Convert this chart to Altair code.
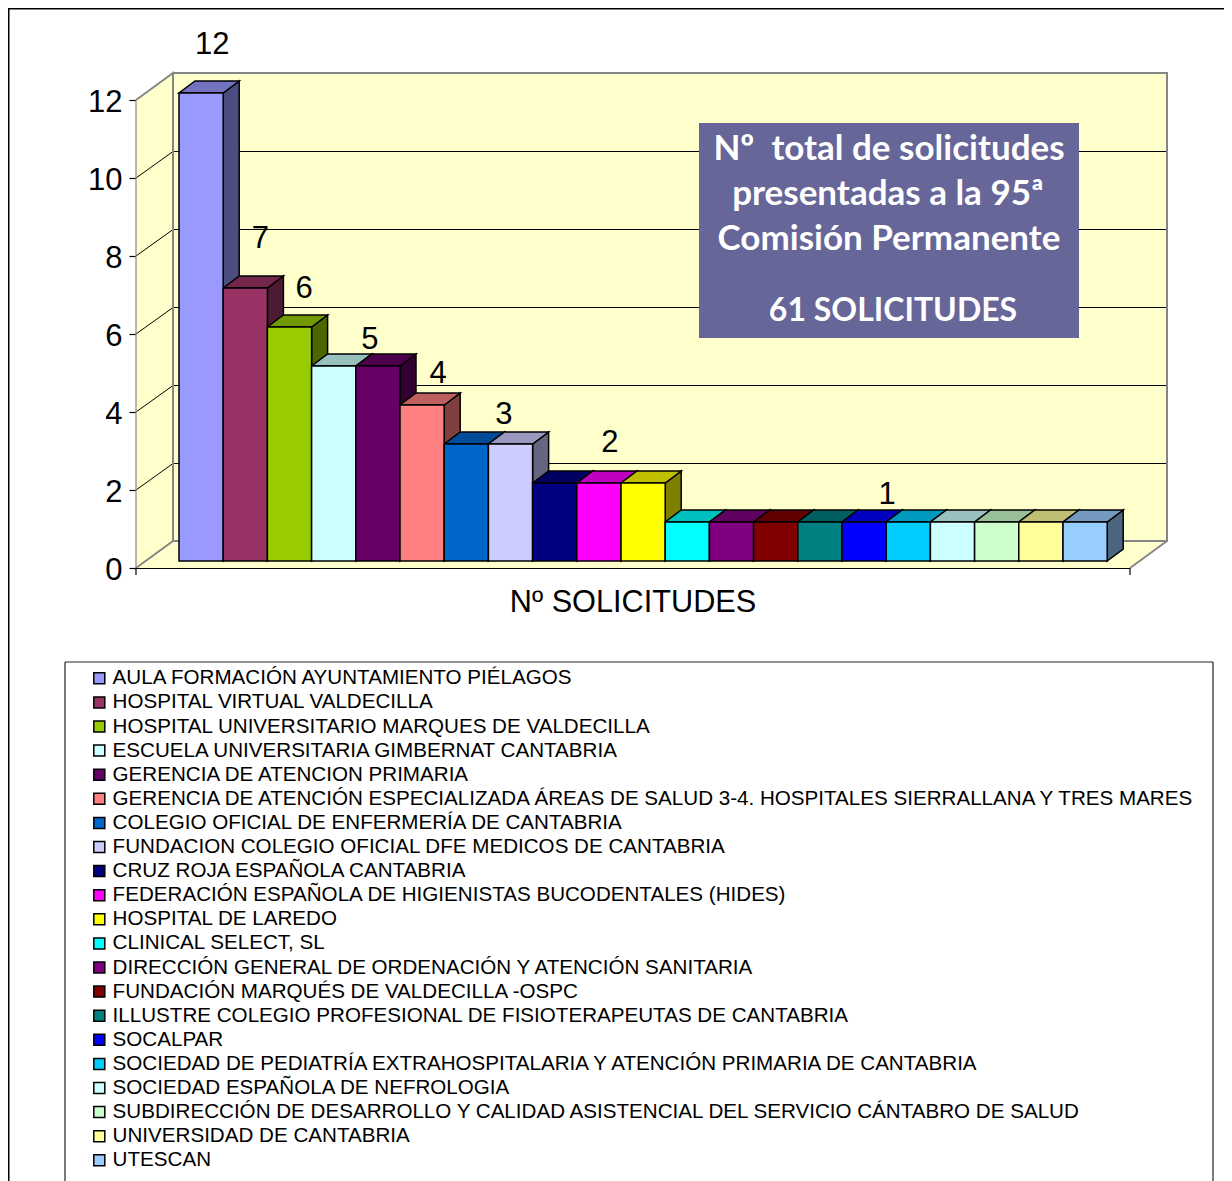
import altair as alt
import pandas as pd

names = [
    "AULA FORMACIÓN AYUNTAMIENTO PIÉLAGOS",
    "HOSPITAL VIRTUAL VALDECILLA",
    "HOSPITAL UNIVERSITARIO MARQUES DE VALDECILLA",
    "ESCUELA UNIVERSITARIA GIMBERNAT CANTABRIA",
    "GERENCIA DE ATENCION PRIMARIA",
    "GERENCIA DE ATENCIÓN ESPECIALIZADA ÁREAS DE SALUD 3-4. HOSPITALES SIERRALLANA Y TRES MARES",
    "COLEGIO OFICIAL DE ENFERMERÍA DE CANTABRIA",
    "FUNDACION COLEGIO OFICIAL DFE MEDICOS DE CANTABRIA",
    "CRUZ ROJA ESPAÑOLA CANTABRIA",
    "FEDERACIÓN ESPAÑOLA DE HIGIENISTAS BUCODENTALES (HIDES)",
    "HOSPITAL DE LAREDO",
    "CLINICAL SELECT, SL",
    "DIRECCIÓN GENERAL DE ORDENACIÓN Y ATENCIÓN SANITARIA",
    "FUNDACIÓN MARQUÉS DE VALDECILLA -OSPC",
    "ILLUSTRE COLEGIO PROFESIONAL DE FISIOTERAPEUTAS DE CANTABRIA",
    "SOCALPAR",
    "SOCIEDAD DE PEDIATRÍA EXTRAHOSPITALARIA Y ATENCIÓN PRIMARIA DE CANTABRIA",
    "SOCIEDAD ESPAÑOLA DE NEFROLOGIA",
    "SUBDIRECCIÓN DE DESARROLLO Y CALIDAD ASISTENCIAL DEL SERVICIO CÁNTABRO DE SALUD",
    "UNIVERSIDAD DE CANTABRIA",
    "UTESCAN",
]
values = [12, 7, 6, 5, 5, 4, 3, 3, 2, 2, 2, 1, 1, 1, 1, 1, 1, 1, 1, 1, 1]
colors = [
    "#9999FF", "#993366", "#99CC00", "#CCFFFF", "#660066", "#FF8080", "#0066CC",
    "#CCCCFF", "#000080", "#FF00FF", "#FFFF00", "#00FFFF", "#800080", "#800000",
    "#008080", "#0000FF", "#00CCFF", "#CCFFFF", "#CCFFCC", "#FFFF99", "#99CCFF",
]
label_text = ["12", "7", "6", "5", "4", "3", "2", "1"]
label_bar = [0.75, 1.84, 2.83, 4.32, 5.86, 7.35, 9.75, 16.02]
label_val = [13.41, 8.44, 7.16, 5.85, 4.98, 3.93, 3.20, 1.87]
box_lines = ["Nº\u00a0\u00a0total de solicitudes", "presentadas a la 95ª", "Comisión Permanente", "61 SOLICITUDES"]
box_cx = [889, 888, 889, 893]
box_cy = [149, 194, 239, 311]
box_size = [35, 35, 35, 32]

W, H = 1216, 1173
UX, UY = 44.2, 39.0
ORG_X, ORG_Y = 179 - 8, 568 - 8  # page position of bar 0 left edge and of value 0
FONT = "Liberation Sans"

xs = alt.Scale(domain=[-ORG_X / UX, (W - ORG_X) / UX], range=[0, W], nice=False, zero=False)
ys = alt.Scale(domain=[(ORG_Y - H) / UY, ORG_Y / UY], range=[H, 0], nice=False, zero=False)
X = lambda f: alt.X(f, type="quantitative", scale=xs, axis=None)
Y = lambda f: alt.Y(f, type="quantitative", scale=ys, axis=None)

# 3D geometry in data units
BAR_LIFT = 7 / UY
DX, DY = 16 / UX, 12 / UY
FX, FY = 37 / UX, 27 / UY
LEFT = -43 / UX
RIGHT = 951 / UX
CRISP = 0.5 / UY


def shade(hex_c, k):
    r, g, b = (int(hex_c[i:i + 2], 16) for i in (1, 3, 5))
    return "#%02X%02X%02X" % (round(r * k), round(g * k), round(b * k))


fronts, sides, tops = [], [], []
for i, (n, v, c) in enumerate(zip(names, values, colors)):
    base = BAR_LIFT
    top = v + BAR_LIFT
    fronts.append(dict(name=n, x=i, x2=i + 1, y=base, y2=top))
    sc, tc = shade(c, 0.5), shade(c, 0.75)
    sides += [
        dict(b=i, c=sc, x=i + 1, y=base, y2=top),
        dict(b=i, c=sc, x=i + 1 + DX, y=base + DY, y2=top + DY),
    ]
    tops += [
        dict(b=i, c=tc, x=i, y=top, y2=top),
        dict(b=i, c=tc, x=i + DX, y=top, y2=top + DY),
        dict(b=i, c=tc, x=i + 1, y=top, y2=top + DY),
        dict(b=i, c=tc, x=i + 1 + DX, y=top + DY, y2=top + DY),
    ]

WALL = "#FFFFCC"
GRAY = "#868686"
walls = pd.DataFrame([
    dict(w=0, x=LEFT, y=0, y2=12),
    dict(w=0, x=LEFT + FX, y=FY, y2=12 + FY),
    dict(w=1, x=LEFT + FX, y=FY, y2=12 + FY),
    dict(w=1, x=RIGHT + FX, y=FY, y2=12 + FY),
    dict(w=2, x=LEFT, y=0, y2=0),
    dict(w=2, x=LEFT + FX, y=0, y2=FY),
    dict(w=2, x=RIGHT, y=0, y2=FY),
    dict(w=2, x=RIGHT + FX, y=FY, y2=FY),
])
wall_layer = alt.Chart(walls).mark_area(color=WALL, orient="vertical").encode(
    x=X("x"), y=Y("y"), y2=alt.Y2("y2"), detail="w:N")

grid_rows = []
for v in [2, 4, 6, 8, 10]:
    grid_rows += [
        dict(v=v, o=0, x=LEFT, y=v),
        dict(v=v, o=1, x=LEFT + FX, y=v + FY - CRISP),
        dict(v=v, o=2, x=RIGHT + FX, y=v + FY - CRISP),
    ]
grid_layer = alt.Chart(pd.DataFrame(grid_rows)).mark_line(color="black", strokeWidth=1).encode(
    x=X("x"), y=Y("y"), detail="v:N", order="o:Q")

# grey outlines of the walls
outline_rows = []
for gid, pts in enumerate([
    [(LEFT, 0), (LEFT + FX, FY), (LEFT + FX, 12 + FY), (LEFT, 12)],
    [(LEFT + FX, 12 + FY), (RIGHT + FX, 12 + FY), (RIGHT + FX, FY), (LEFT + FX, FY)],
    [(RIGHT + FX, FY), (RIGHT, 0)],
]):
    for o, (a, b) in enumerate(pts):
        outline_rows.append(dict(g=gid, o=o, x=a, y=b))
outline_layer = alt.Chart(pd.DataFrame(outline_rows)).mark_line(color=GRAY, strokeWidth=2).encode(
    x=X("x"), y=Y("y"), detail="g:N", order="o:Q")

left_line = alt.Chart(pd.DataFrame(dict(x=[LEFT], y=[0], y2=[12]))).mark_rule(color=GRAY, strokeWidth=1.2).encode(
    x=X("x"), y=Y("y"), y2=alt.Y2("y2"))
base_line = alt.Chart(pd.DataFrame(dict(x=[LEFT], x2=[RIGHT], y=[-CRISP]))).mark_rule(color="black", strokeWidth=1.2).encode(
    x=X("x"), x2=alt.X2("x2"), y=Y("y"))
base_ticks = alt.Chart(pd.DataFrame(dict(x=[LEFT, RIGHT], y=[0, 0], y2=[-7 / UY, -7 / UY]))).mark_rule(
    color="black", strokeWidth=1.2).encode(x=X("x"), y=Y("y"), y2=alt.Y2("y2"))

axis_layer = alt.Chart(pd.DataFrame(dict(x=[LEFT], v=[0]))).mark_point(opacity=0).encode(
    x=X("x"),
    y=alt.Y("v:Q", scale=ys, axis=alt.Axis(
        orient="left", offset=-(136 - 8), values=[0, 2, 4, 6, 8, 10, 12], domain=False, grid=False,
        ticks=True, tickColor="black", tickSize=7, tickWidth=1.2, labelFont=FONT, labelFontSize=31,
        labelColor="black", labelPadding=7, labelOffset=2, title=None, format="d")),
)

side_layer = alt.Chart(pd.DataFrame(sides)).mark_area(stroke="black", strokeWidth=1.5, orient="vertical").encode(
    x=X("x"), y=Y("y"), y2=alt.Y2("y2"), detail="b:N", color=alt.Color("c:N", scale=None))
top_layer = alt.Chart(pd.DataFrame(tops)).mark_area(stroke="black", strokeWidth=1.5, orient="vertical").encode(
    x=X("x"), y=Y("y"), y2=alt.Y2("y2"), detail="b:N", color=alt.Color("c:N", scale=None))
front_layer = alt.Chart(pd.DataFrame(fronts)).mark_rect(stroke="black", strokeWidth=1.5).encode(
    x=X("x"), x2=alt.X2("x2"), y=Y("y"), y2=alt.Y2("y2"),
    fill=alt.Fill("name:N", sort=names, scale=alt.Scale(domain=names, range=colors), legend=alt.Legend(
        orient="none", legendX=89 - 8, legendY=668 - 8, title=None, columns=1, symbolType="square",
        symbolSize=121, symbolStrokeColor="black", symbolStrokeWidth=1.5, labelFont=FONT,
        labelFontSize=20.6, labelColor="black", labelLimit=1200, labelOffset=3, rowPadding=3.1,
        padding=0, symbolOffset=0)),
)

labels = pd.DataFrame(dict(t=label_text, x=label_bar, y=label_val))
label_layer = alt.Chart(labels).mark_text(font=FONT, fontSize=31, color="black", baseline="middle", align="center").encode(
    x=X("x"), y=Y("y"), text="t:N")

one = pd.DataFrame(dict(a=[0]))
title_layer = alt.Chart(one).mark_text(font=FONT, fontSize=30.7, color="black", baseline="middle", align="center").encode(
    x=alt.value(633 - 8), y=alt.value(603 - 8), text=alt.value("Nº SOLICITUDES"))

box_rect = alt.Chart(one).mark_rect(color="#666699").encode(
    x=alt.value(699 - 8), x2=alt.value(1079 - 8), y=alt.value(123 - 8), y2=alt.value(338 - 8))
box_text = alt.Chart(pd.DataFrame(dict(
    t=box_lines, x=[c - 8 for c in box_cx], y=[c - 8 for c in box_cy], s=box_size
))).mark_text(
    font="Lato", fontWeight="bold", color="white", baseline="middle", align="center").encode(
    x=alt.X("x:Q", scale=None, axis=None), y=alt.Y("y:Q", scale=None, axis=None), text="t:N",
    size=alt.Size("s:Q", scale=None))

# outer frame and legend frame
frame = alt.Chart(pd.DataFrame(dict(x=[0, 0], x2=[W, 0], y=[0, 0], y2=[0, H]))).mark_rule(color="black", strokeWidth=3).encode(
    x=alt.X("x:Q", scale=None, axis=None), x2="x2:Q", y=alt.Y("y:Q", scale=None, axis=None), y2="y2:Q")
leg_l, leg_r, leg_t = 65 - 8, 1213 - 8, 662 - 8
leg_frame = alt.Chart(pd.DataFrame(dict(
    x=[leg_l, leg_l, leg_r], x2=[leg_r, leg_l, leg_r], y=[leg_t, leg_t, leg_t], y2=[leg_t, H, H]
))).mark_rule(color="#222222", strokeWidth=1.2).encode(
    x=alt.X("x:Q", scale=None, axis=None), x2="x2:Q", y=alt.Y("y:Q", scale=None, axis=None), y2="y2:Q")

chart = alt.layer(
    frame, leg_frame, wall_layer, grid_layer, outline_layer, left_line, base_line, base_ticks, axis_layer,
    side_layer, top_layer, front_layer, label_layer, title_layer, box_rect, box_text,
).resolve_axis(y="independent").properties(
    width=W, height=H, padding=0, autosize=alt.AutoSizeParams(type="none"),
).configure_view(stroke=None)

chart.save("out.html", embed_options={"renderer": "svg", "actions": False})
